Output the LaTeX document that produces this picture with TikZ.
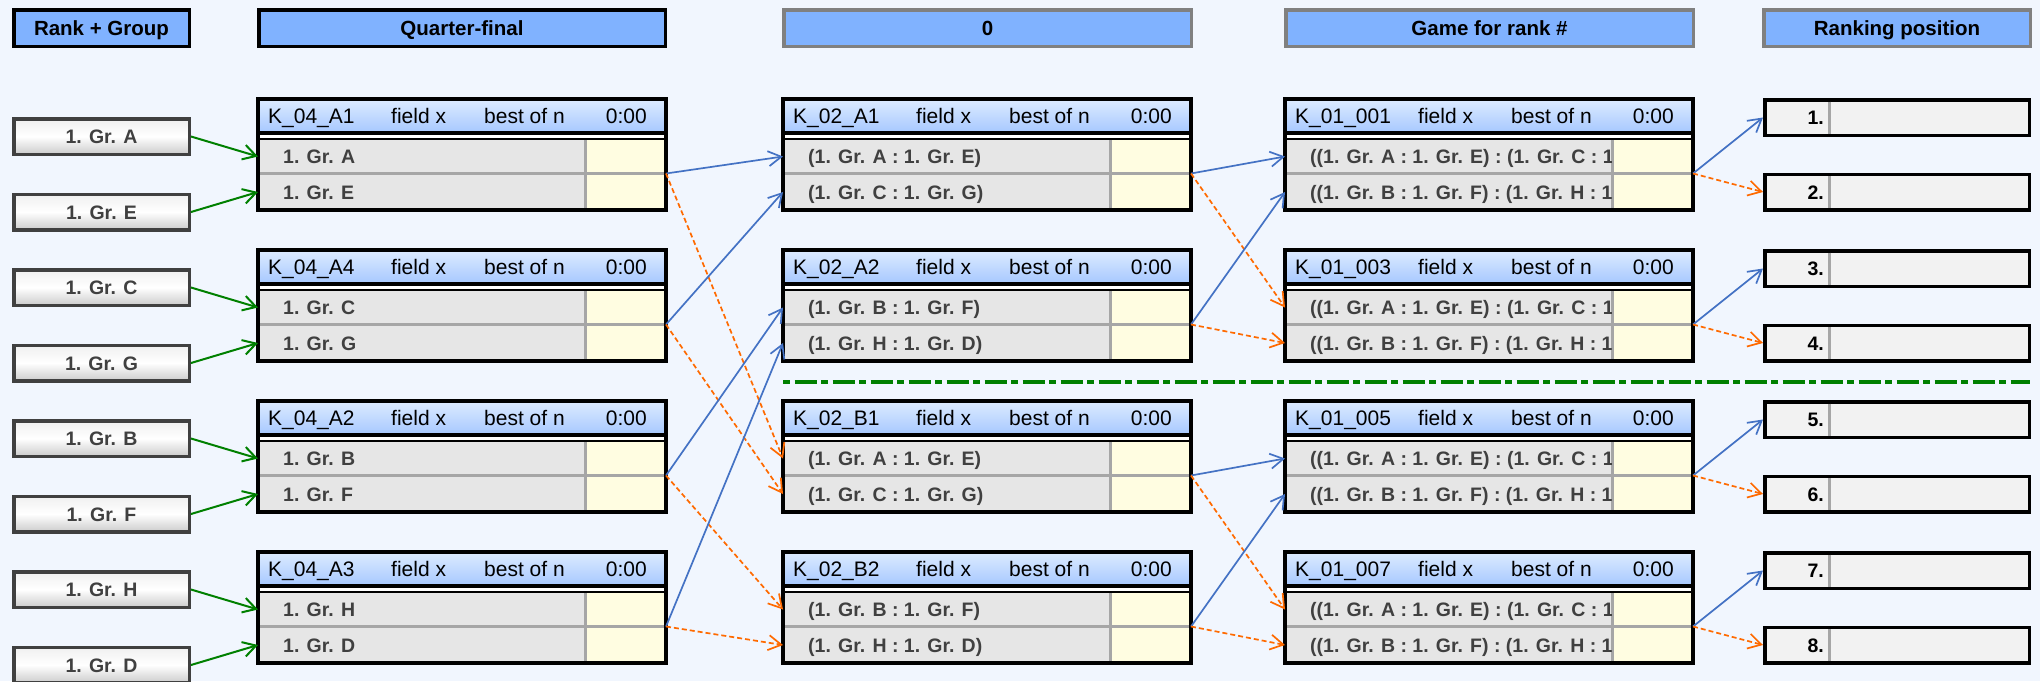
\documentclass[tikz,border=0pt]{standalone}
\usepackage{fontspec}
\setmainfont{Liberation Sans}
\usetikzlibrary{arrows.meta}
\definecolor{bgblue}{HTML}{F1F6FE}
\definecolor{headblue}{HTML}{80B2FF}
\definecolor{headgray}{HTML}{808080}
\definecolor{headtop}{HTML}{DDEBFF}
\definecolor{headbot}{HTML}{A6C8FF}
\definecolor{rowgray}{HTML}{E6E6E6}
\definecolor{scoreyel}{HTML}{FFFDE1}
\definecolor{sepgray}{HTML}{A6A6A6}
\definecolor{teamgray}{HTML}{404040}
\definecolor{rankgray}{HTML}{F2F2F2}
\definecolor{winblue}{HTML}{4472C4}
\definecolor{loseorange}{HTML}{FF6A00}
\definecolor{feedgreen}{HTML}{008000}

% match box: name, left x, top y, title, first row, second row
\newcommand\matchbox[6]{%
  \shade[top color=headtop,bottom color=headbot] (#2,#3) rectangle ++(408,34);
  \fill[white] (#2,#3+34) rectangle ++(408,6);
  \fill[rowgray] (#2,#3+40) rectangle ++(327,71);
  \fill[scoreyel] (#2+327,#3+40) rectangle ++(81,71);
  \draw[sepline] (#2,#3+74.5) -- ++(408,0) (#2+327,#3+40) -- ++(0,71);
  \draw[line width=4.3pt] (#2,#3+34) -- ++(408,0);
  \draw[line width=2.3pt] (#2,#3+40) -- ++(408,0);
  \draw[line width=3.5pt] (#2,#3) rectangle ++(408,111);
  \node[htxt] (#1-t) at (#2+10,#3+17) {#4};
  \node[htxt] (#1-f) at (#2+133,#3+17) {field x};
  \node[htxt] (#1-n) at (#2+226,#3+17) {best of n};
  \node[htxt,anchor=east] (#1-z) at (#2+389,#3+17) {0:00};
  \begin{scope}
    \clip (#2,#3+40) rectangle ++(326,71);
    \node[ttxt] (#1-ra) at (#2+25,#3+57.5) {#5};
    \node[ttxt] (#1-rb) at (#2+25,#3+93) {#6};
  \end{scope}
  \coordinate (#1-a) at (#2,#3+57.5);
  \coordinate (#1-b) at (#2,#3+93);
  \coordinate (#1-o) at (#2+408,#3+74.5);
}

\begin{document}
\begin{tikzpicture}[x=1pt,y=-1pt,
    colhead/.style={draw=black,line width=3.5pt,fill=headblue,minimum height=36.5pt,inner sep=0pt,
      text height=14.7pt,text depth=0pt,font=\fontsize{20.5}{24}\selectfont\bfseries},
    team/.style={draw=teamgray,line width=3.5pt,top color=gray!12,bottom color=gray!40,middle color=white,
      minimum width=175.5pt,minimum height=35.5pt,inner sep=0pt,text=teamgray,
      text height=14pt,text depth=0pt,font=\fontsize{19.5}{22}\selectfont\bfseries},
    rank/.style={draw=black,line width=3.5pt,fill=rankgray,minimum width=264.5pt,minimum height=35.5pt,inner sep=0pt},
    htxt/.style={anchor=west,inner sep=0pt,text height=15pt,text depth=0pt,font=\fontsize{21}{24}\selectfont},
    ttxt/.style={anchor=west,inner sep=0pt,text=teamgray,text height=14pt,text depth=0pt,
      font=\fontsize{19.5}{22}\selectfont\bfseries},
    sepline/.style={draw=sepgray,line width=3pt},
    win/.style={draw=winblue,line width=1.7pt,-{Straight Barb[length=13pt,width=15pt]}},
    lose/.style={draw=loseorange,line width=1.7pt,dash pattern=on 5pt off 3pt,-{Straight Barb[length=13pt,width=15pt]}},
    feed/.style={draw=feedgreen,line width=2pt,-{Straight Barb[length=13pt,width=15pt]}},
    divider/.style={draw=feedgreen,line width=4.3pt,dash pattern=on 7pt off 4.5pt on 22pt off 4.5pt}]
\useasboundingbox (0,0) rectangle (2040,681);
\fill[bgblue] (0,0) rectangle (2040,681);

% column heads
\node[colhead,minimum width=175.5pt] (hRank) at (101.5,28) {Rank + Group};
\node[colhead,minimum width=406.5pt] (hQuarter) at (462,28) {Quarter-final};
\node[colhead,draw=headgray,minimum width=407.5pt] (hRound) at (987.5,28) {0};
\node[colhead,draw=headgray,minimum width=407.5pt] (hGame) at (1489.5,28) {Game for rank \#};
\node[colhead,draw=headgray,minimum width=266.5pt] (hRanking) at (1897,28) {Ranking position};

% group winners
\foreach \g [count=\k from 0] in {A,E,C,G,B,F,H,D}
  \node[team] (g\g) at (101.5,136.5+75.5*\k) {1. Gr. \g};

% games
\matchbox{K04A1}{258}{99}{K\_04\_A1}{1. Gr. A}{1. Gr. E}
\matchbox{K04A4}{258}{250}{K\_04\_A4}{1. Gr. C}{1. Gr. G}
\matchbox{K04A2}{258}{401}{K\_04\_A2}{1. Gr. B}{1. Gr. F}
\matchbox{K04A3}{258}{552}{K\_04\_A3}{1. Gr. H}{1. Gr. D}
\matchbox{K02A1}{783}{99}{K\_02\_A1}{(1. Gr. A : 1. Gr. E)}{(1. Gr. C : 1. Gr. G)}
\matchbox{K02A2}{783}{250}{K\_02\_A2}{(1. Gr. B : 1. Gr. F)}{(1. Gr. H : 1. Gr. D)}
\matchbox{K02B1}{783}{401}{K\_02\_B1}{(1. Gr. A : 1. Gr. E)}{(1. Gr. C : 1. Gr. G)}
\matchbox{K02B2}{783}{552}{K\_02\_B2}{(1. Gr. B : 1. Gr. F)}{(1. Gr. H : 1. Gr. D)}
\matchbox{K01001}{1285}{99}{K\_01\_001}{((1. Gr. A : 1. Gr. E) : (1. Gr. C : 1.}{((1. Gr. B : 1. Gr. F) : (1. Gr. H : 1.}
\matchbox{K01003}{1285}{250}{K\_01\_003}{((1. Gr. A : 1. Gr. E) : (1. Gr. C : 1.}{((1. Gr. B : 1. Gr. F) : (1. Gr. H : 1.}
\matchbox{K01005}{1285}{401}{K\_01\_005}{((1. Gr. A : 1. Gr. E) : (1. Gr. C : 1.}{((1. Gr. B : 1. Gr. F) : (1. Gr. H : 1.}
\matchbox{K01007}{1285}{552}{K\_01\_007}{((1. Gr. A : 1. Gr. E) : (1. Gr. C : 1.}{((1. Gr. B : 1. Gr. F) : (1. Gr. H : 1.}

% ranking positions
\foreach \i/\y in {1/117.5,2/192,3/268.5,4/343,5/419.5,6/494,7/570.5,8/645}{
  \node[rank] (r\i) at (1897,\y) {};
  \draw[sepline] (1829,\y-16) -- (1829,\y+16);
  \node[ttxt,text=black,anchor=east] (r\i-n) at (1824,\y) {\i.};
}

\draw[divider] (783,382) -- (2030,382);

% connectors
\foreach \src/\dst in {gA/K04A1-a,gE/K04A1-b,gC/K04A4-a,gG/K04A4-b,gB/K04A2-a,gF/K04A2-b,gH/K04A3-a,gD/K04A3-b}
  \draw[feed] (\src.east) -- (\dst);
\foreach \src/\wn/\ls in {K04A1/K02A1-a/K02B1-a,K04A4/K02A1-b/K02B1-b,K04A2/K02A2-a/K02B2-a,K04A3/K02A2-b/K02B2-b,
    K02A1/K01001-a/K01003-a,K02A2/K01001-b/K01003-b,K02B1/K01005-a/K01007-a,K02B2/K01005-b/K01007-b,
    K01001/r1.west/r2.west,K01003/r3.west/r4.west,K01005/r5.west/r6.west,K01007/r7.west/r8.west}{
  \draw[win] (\src-o) -- (\wn);
  \draw[lose] (\src-o) -- (\ls);
}
\end{tikzpicture}
\end{document}
